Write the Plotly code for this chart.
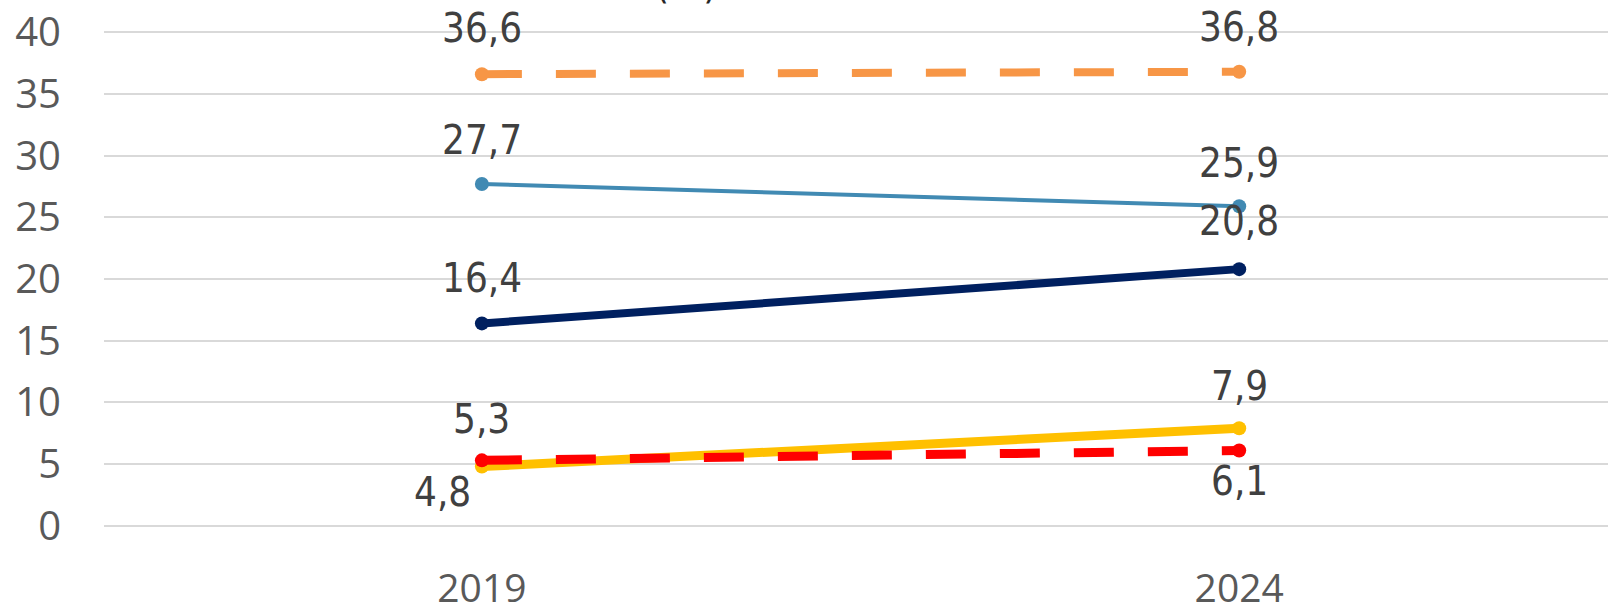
import plotly.graph_objects as go

years = ["2019", "2024"]
orange = [36.6, 36.8]
blue = [27.7, 25.9]
navy = [16.4, 20.8]
yellow = [4.8, 7.9]
red = [5.3, 6.1]
y_ticks = [0, 5, 10, 15, 20, 25, 30, 35, 40]

# (values, colour, width, dash, label offsets (dx, dy) per point)
series = [
    (orange, "#F79646", 8, "40px,34px", [(0, 46), (0, 45)]),
    (blue, "#418AB3", 4, "solid", [(0, 44), (0, 43)]),
    (navy, "#002060", 8, "solid", [(0, 45), (0, 48)]),
    (yellow, "#FFC000", 9, "solid", [(-39, -25), (0, 42)]),
    (red, "#FF0000", 9, "40px,34px", [(0, 41), (0, -30)]),
]

fig = go.Figure()
label_font = dict(family="DejaVu Sans Condensed", size=40, color="#404040")
for vals, color, width, dash, offs in series:
    fig.add_trace(go.Scatter(
        x=years, y=vals, mode="lines+markers",
        line=dict(color=color, width=width, dash=dash),
        marker=dict(color=color, size=14),
        showlegend=False, hoverinfo="skip",
    ))
    for i, (dx, dy) in enumerate(offs):
        fig.add_annotation(
            x=i, y=vals[i], xref="x", yref="y",
            text=("%.1f" % vals[i]).replace(".", ","),
            showarrow=False, xshift=dx, yshift=dy, font=label_font,
        )

# partially visible title (cut off at top of the image, as in the reference)
fig.add_annotation(
    x=0.387, y=1, xref="paper", yref="paper", text="(%)",
    showarrow=False, yanchor="bottom", yshift=22,
    font=dict(family="DejaVu Sans Condensed", size=40, color="#262626"),
)

fig.update_layout(
    width=1608, height=607,
    margin=dict(l=104, r=0, t=31, b=80, autoexpand=False),
    paper_bgcolor="white", plot_bgcolor="white",
    xaxis=dict(type="category", range=[-0.499, 1.487], showgrid=False, zeroline=False,
               showline=False, ticks="",
               tickfont=dict(family="Open Sans", size=39, color="#595959"),
               ticklabelstandoff=35),
    yaxis=dict(range=[-0.1, 40.1], tickvals=y_ticks, showgrid=True, gridcolor="#D9D9D9",
               gridwidth=2, zeroline=False, showline=False, ticks="",
               tickfont=dict(family="Open Sans", size=40, color="#595959"),
               ticklabelstandoff=42),
)
fig.write_html("out.html", config={"displayModeBar": False},
               post_script="document.body.style.margin='0';document.body.style.overflow='hidden';")
